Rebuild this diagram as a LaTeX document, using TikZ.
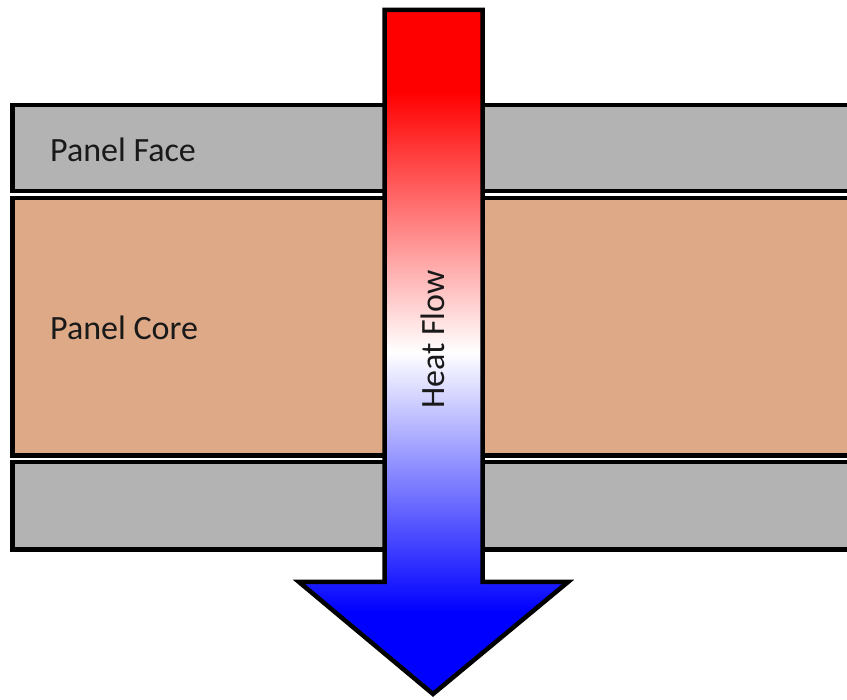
\documentclass[tikz,border=0pt]{standalone}
\usepackage{fontspec}
\setmainfont{Carlito}
\definecolor{facegray}{HTML}{B3B3B3}
\definecolor{coretan}{HTML}{DEA987}
% red at the top, white in the middle, blue at the bottom of the arrow
\pgfdeclareverticalshading{heatflow}{100bp}{%
  color(0bp)=(blue); color(31bp)=(blue); color(50bp)=(white);
  color(69bp)=(red); color(100bp)=(red)}
\tikzset{
  layer/.style={draw=black, line width=4.5pt},
  lbl/.style={font=\fontsize{34}{40}\selectfont, text=black!90, inner sep=0pt},
  arrowbody/.style={shading=heatflow, draw=black, line width=4.5pt, line join=miter}
}
\begin{document}
\begin{tikzpicture}[x=1pt, y=1pt]
  \useasboundingbox (0,0) rectangle (847,700);
  \begin{scope}
    \clip (0,0) rectangle (847,700);
    % sandwich panel layers, running off the right edge
    \draw[layer, fill=facegray] (12.5,509) rectangle (870,595);
    \draw[layer, fill=coretan]  (12.5,244.5) rectangle (870,502);
    \draw[layer, fill=facegray] (12.5,150.5) rectangle (870,238);
  \end{scope}
  % heat flow arrow
  \shadedraw[arrowbody]
    (384.5,690) -- (482.5,690) -- (482.5,118) -- (568,118)
    -- (433,6) -- (299,118) -- (384.5,118) -- cycle;
  \node[lbl, anchor=base west] (face) at (50,538) {Panel Face};
  \node[lbl, anchor=base west] (core) at (50,360) {Panel Core};
  \node[lbl, anchor=base, rotate=90] (heat) at (444,360.5) {Heat Flow};
\end{tikzpicture}
\end{document}
